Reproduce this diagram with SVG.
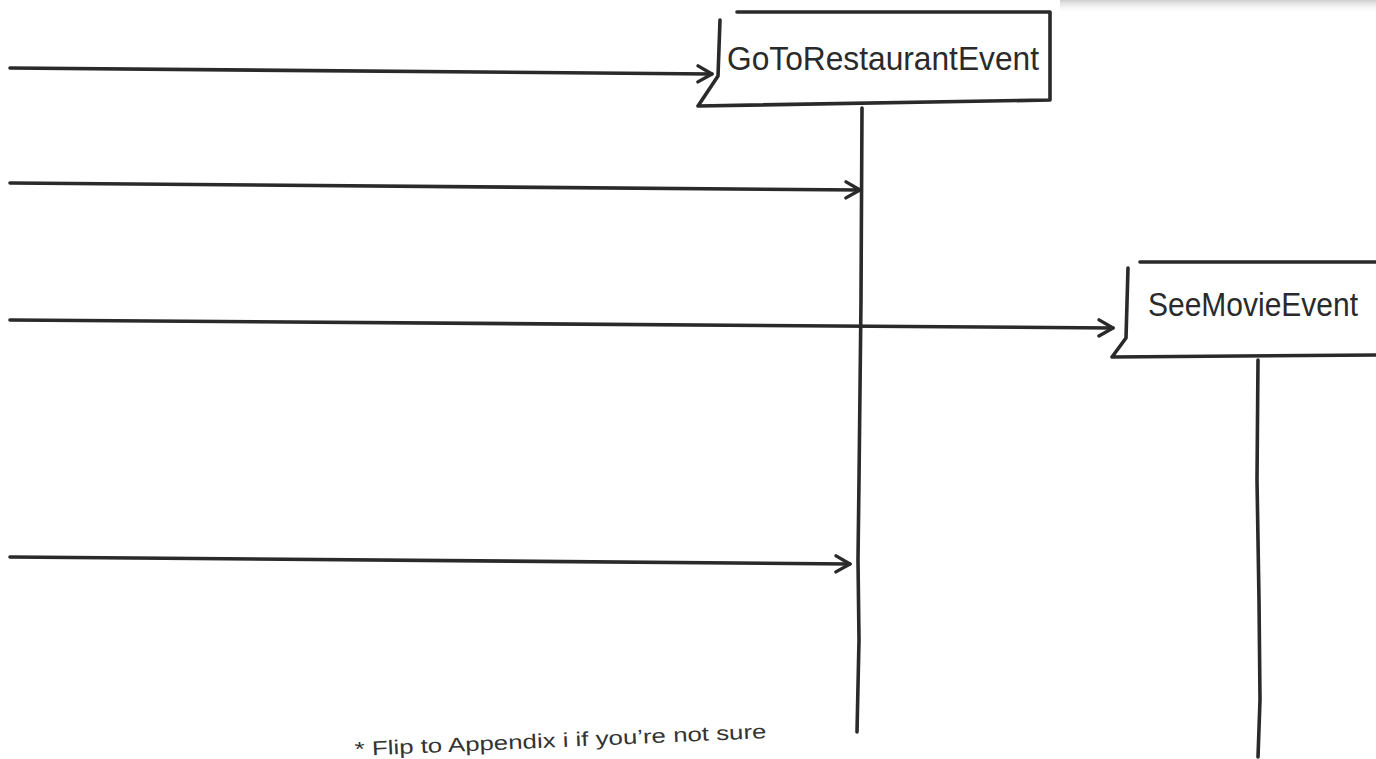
<svg xmlns="http://www.w3.org/2000/svg" width="1376" height="759" viewBox="0 0 1376 759">
<defs>
<linearGradient id="shade" x1="0" y1="0" x2="0" y2="1">
<stop offset="0" stop-color="#cfcfcf"/>
<stop offset="1" stop-color="#ffffff" stop-opacity="0"/>
</linearGradient>
<marker id="arr" viewBox="0 0 20 20" refX="18" refY="10" markerWidth="20" markerHeight="20" markerUnits="userSpaceOnUse" orient="auto">
<path d="M4,2 L18,10 L4,18" fill="none" stroke="#2a2a2a" stroke-width="3.4" stroke-linecap="round" stroke-linejoin="round"/>
</marker>
<style>
.ln{fill:none;stroke:#2a2a2a;stroke-width:3.6;stroke-linecap:round;stroke-linejoin:round}
.lbl{font-family:"Liberation Sans",sans-serif;font-size:34px;fill:#2a2a2a}
.note{font-family:"Liberation Sans",sans-serif;font-size:20px;fill:#333}
</style>
</defs>
<rect width="1376" height="759" fill="#ffffff"/>
<rect x="1060" y="0" width="316" height="14" fill="url(#shade)"/>
<g id="connectors">
<path class="ln" d="M10,68 L712,74" marker-end="url(#arr)"/>
<path class="ln" d="M10,183 L860,190" marker-end="url(#arr)"/>
<path class="ln" d="M10,320 L1113,328" marker-end="url(#arr)"/>
<path class="ln" d="M10,557 L850,564" marker-end="url(#arr)"/>
<path class="ln" d="M862,108 L861,300 L859,480 L858,560 L859,640 L857,732"/>
<path class="ln" d="M1258,360 L1257,480 L1259,600 L1260,700 L1258,757"/>
</g>
<g id="node-goto">
<path d="M720,20 L718,76 L698,106 L1050,100 L1050,12 L737,12 Z" fill="#ffffff"/>
<path class="ln" d="M720,20 L718,76 L698,106 L1050,100 L1050,12 L737,12"/>
<text class="lbl" x="727" y="70" textLength="312" lengthAdjust="spacingAndGlyphs">GoToRestaurantEvent</text>
</g>
<g id="node-movie">
<path d="M1128,268 L1126,338 L1112,357 L1376,355 L1376,262 L1140,262 Z" fill="#ffffff"/>
<path class="ln" d="M1128,268 L1126,338 L1112,357 L1378,355 M1378,262 L1140,262"/>
<text class="lbl" x="1148" y="316" font-size="32" textLength="210" lengthAdjust="spacingAndGlyphs">SeeMovieEvent</text>
</g>
<g id="footnote">
<text class="note" x="355" y="756" transform="rotate(-2.5 355 756)" textLength="412" lengthAdjust="spacingAndGlyphs">* Flip to Appendix i if you’re not sure</text>
</g>
</svg>
